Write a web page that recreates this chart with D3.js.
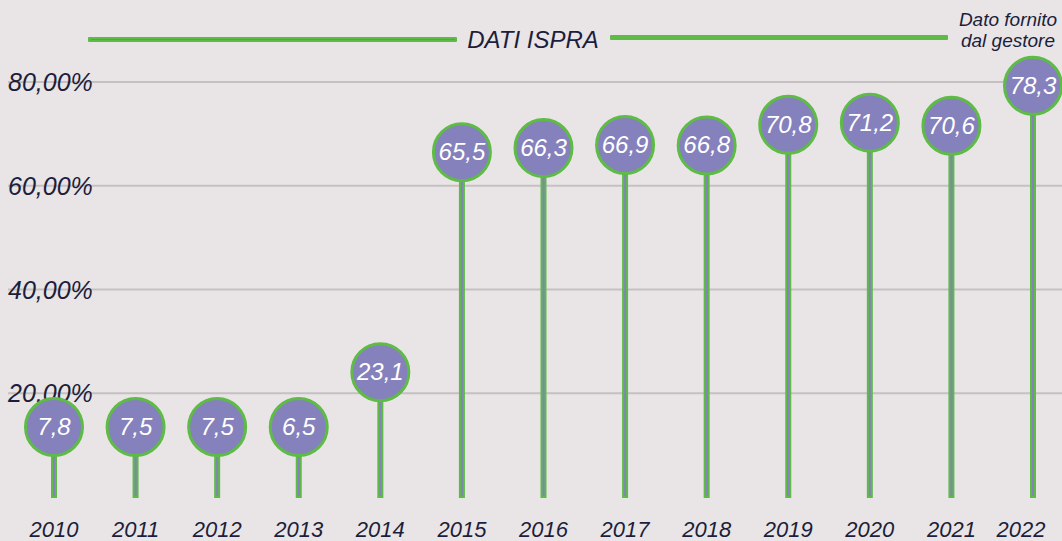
<!DOCTYPE html>
<html>
<head>
<meta charset="utf-8">
<script src="https://cdn.jsdelivr.net/npm/d3@7"></script>
<style>
  html, body { margin: 0; padding: 0; background: #e9e5e6; }
  svg { display: block; font-family: "Liberation Sans", Arial, sans-serif; font-style: italic; }
</style>
</head>
<body>
<div id="chart"></div>
<script>
var W = 1062, H = 541;
// data
var years = ["2010","2011","2012","2013","2014","2015","2016","2017","2018","2019","2020","2021","2022"];
var values = [7.8, 7.5, 7.5, 6.5, 23.1, 65.5, 66.3, 66.9, 66.8, 70.8, 71.2, 70.6, 78.3];
var labels = ["7,8","7,5","7,5","6,5","23,1","65,5","66,3","66,9","66,8","70,8","71,2","70,6","78,3"];
var yTicks = [20, 40, 60, 80];
var yTickLabels = ["20,00%","40,00%","60,00%","80,00%"];

var purple = "#8581bd";
var green = "#5dbb46";
var ink = "#1c1e3b";
var gridColor = "#c5c1c2";
var r = 30;

var svg = d3.select("#chart").append("svg")
  .attr("width", W).attr("height", H);

var x = d3.scalePoint().domain(years).range([54, 1033]);
var y = d3.scaleLinear().domain([0, 80]).range([497, 82]);

// grid lines + labels
var grid = svg.append("g");
grid.selectAll("line").data(yTicks).enter().append("line")
  .attr("x1", 8).attr("x2", W)
  .attr("y1", function(d){ return y(d); })
  .attr("y2", function(d){ return y(d); })
  .attr("stroke", gridColor).attr("stroke-width", 2);
grid.selectAll("text").data(yTicks).enter().append("text")
  .attr("x", 8)
  .attr("y", function(d){ return y(d) + 9; })
  .attr("fill", ink)
  .attr("font-size", 25)
  .text(function(d, i){ return yTickLabels[i]; });

// header
svg.append("rect").attr("x", 88).attr("y", 37).attr("width", 369).attr("height", 5)
  .attr("fill", green).attr("rx", 1);
svg.append("line").attr("x1", 91).attr("x2", 455).attr("y1", 39.5).attr("y2", 39.5)
  .attr("stroke", "#7a7fa8").attr("stroke-width", 1.2);
svg.append("rect").attr("x", 610).attr("y", 35).attr("width", 338).attr("height", 5)
  .attr("fill", green).attr("rx", 1);
svg.append("text").attr("x", 533).attr("y", 48).attr("text-anchor", "middle")
  .attr("fill", ink).attr("font-size", 24).text("DATI ISPRA");
svg.append("text").attr("x", 1008).attr("y", 26).attr("text-anchor", "middle")
  .attr("fill", ink).attr("font-size", 19).text("Dato fornito");
svg.append("text").attr("x", 1008).attr("y", 47).attr("text-anchor", "middle")
  .attr("fill", ink).attr("font-size", 19).text("dal gestore");

var data = years.map(function(d, i){ return {year: d, v: values[i], label: labels[i]}; });
function cy(d){ return Math.min(y(d.v) - 5, y(0) - 70); }

// stems
var pins = svg.append("g").selectAll("g").data(data).enter().append("g");
pins.append("rect")
  .attr("x", function(d){ return x(d.year) - 2; })
  .attr("y", function(d){ return cy(d); })
  .attr("width", 4)
  .attr("height", function(d){ return y(0) - cy(d); })
  .attr("fill", purple)
  .attr("stroke", green).attr("stroke-width", 2);
pins.append("circle")
  .attr("cx", function(d){ return x(d.year); })
  .attr("cy", function(d){ return cy(d); })
  .attr("r", r - 1.5)
  .attr("fill", purple)
  .attr("stroke", green).attr("stroke-width", 3);
pins.append("text")
  .attr("x", function(d){ return x(d.year); })
  .attr("y", function(d){ return cy(d) + 8; })
  .attr("text-anchor", "middle")
  .attr("fill", "#ffffff")
  .attr("font-size", 24)
  .text(function(d){ return d.label; });

// x labels (last one nudged left to stay inside the frame)
svg.append("g").selectAll("text").data(years).enter().append("text")
  .attr("x", function(d, i){ return x(d) - (i == years.length - 1 ? 12 : 0); })
  .attr("y", 537)
  .attr("text-anchor", "middle")
  .attr("fill", ink)
  .attr("font-size", 22)
  .text(function(d){ return d; });
</script>
</body>
</html>
